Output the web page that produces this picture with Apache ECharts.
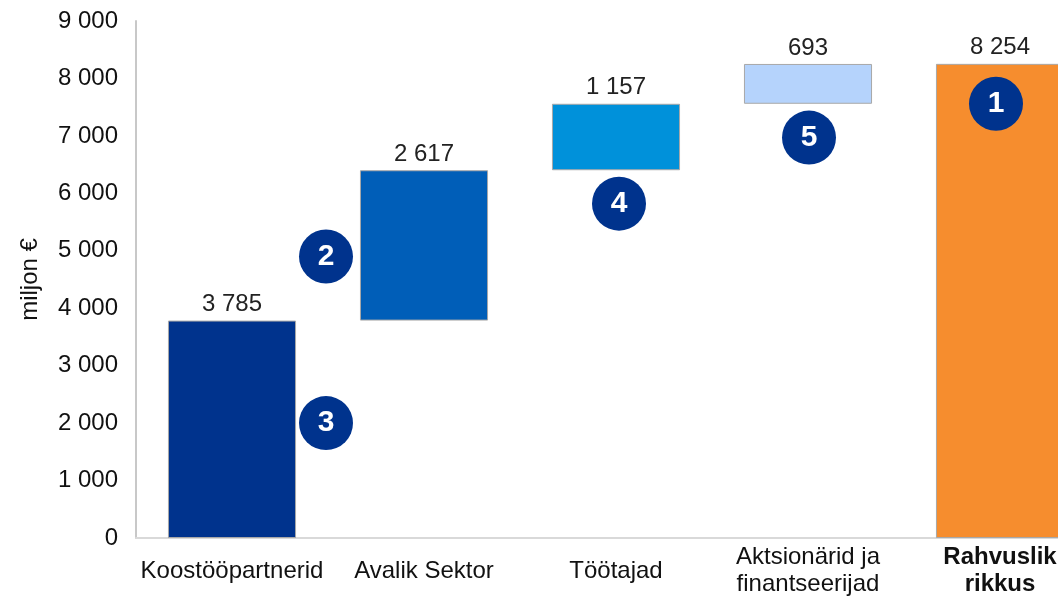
<!DOCTYPE html>
<html>
<head>
<meta charset="utf-8">
<script src="https://cdn.jsdelivr.net/npm/echarts@6/dist/echarts.min.js"></script>
<style>
html,body{margin:0;padding:0;background:#fff;}
#c{width:1058px;height:600px;}
</style>
</head>
<body>
<div id="c"></div>
<script>
var categories = ['Koostööpartnerid', 'Avalik Sektor', 'Töötajad', 'Aktsionärid ja\nfinantseerijad', 'Rahvuslik\nrikkus'];
var values = [3785, 2617, 1157, 693, 8254];
var barColors = ['#00338D', '#005EB8', '#0091DA', '#B5D3FC', '#F68D2E'];
var yTicks = [0, 1000, 2000, 3000, 4000, 5000, 6000, 7000, 8000, 9000];

// numbered badges: category, y value, x shift
var badgeNums = ['3', '2', '4', '5', '1'];
var badgeCats = [0, 1, 2, 3, 4];
var badgeVals = [2000, 4900, 5820, 6970, 7560];
var badgeShift = [94, -98, 3, 1, -4];

// invisible base for the waterfall (last bar is the total)
var base = [];
var run = 0;
for (var i = 0; i < values.length; i++) {
	if (i == values.length - 1) { base.push(0); }
	else { base.push(run); run += values[i]; }
}

function fmt(v) {
	return String(v).replace(/\B(?=(\d{3})+(?!\d))/g, ' ');
}

var font = 'Liberation Sans, Arial, sans-serif';
var chart = echarts.init(document.getElementById('c'));

var badgeData = [];
for (var j = 0; j < badgeNums.length; j++) {
	badgeData.push({
		name: badgeNums[j],
		coord: [badgeCats[j], badgeVals[j]],
		symbolOffset: [badgeShift[j], 0]
	});
}

option = {
	backgroundColor: '#fff',
	animation: false,
	grid: {
		left: 136,
		right: -38,
		top: 21,
		bottom: 62,
		outerBoundsMode: 'none',
		containLabel: false
	},
	xAxis: {
		type: 'category',
		data: categories,
		axisTick: {show: false},
		axisLine: {show: true, lineStyle: {color: '#d9d9d9', width: 2}},
		axisLabel: {
			interval: 0,
			margin: 33,
			verticalAlign: 'middle',
			color: '#111',
			fontSize: 24,
			fontFamily: font,
			lineHeight: 27,
			formatter: function (v, idx) {
				if (idx == categories.length - 1) {
					return v.split('\n').map(function (s) { return '{b|' + s + '}'; }).join('\n');
				}
				return v;
			},
			rich: {
				b: {fontWeight: 'bold', fontSize: 24, fontFamily: font, color: '#111', lineHeight: 27}
			}
		},
		splitLine: {show: false}
	},
	yAxis: {
		type: 'value',
		min: yTicks[0],
		max: yTicks[yTicks.length - 1],
		interval: 1000,
		name: 'miljon €',
		nameLocation: 'middle',
		nameGap: 94,
		nameTextStyle: {color: '#111', fontSize: 24, fontFamily: font},
		axisLine: {show: true, lineStyle: {color: '#c8c8c8', width: 2}},
		axisTick: {show: false},
		splitLine: {show: false},
		axisLabel: {
			margin: 18,
			color: '#111',
			fontSize: 24,
			fontFamily: font,
			formatter: fmt
		}
	},
	series: [{
		type: 'bar',
		stack: 'w',
		data: base,
		itemStyle: {color: 'transparent'},
		silent: true
	}, {
		type: 'bar',
		stack: 'w',
		barWidth: '66.7%',
		data: values.map(function (v, k) {
			return {value: v, itemStyle: {color: barColors[k]}};
		}),
		itemStyle: {borderColor: '#a8a8a8', borderWidth: 1},
		label: {
			show: true,
			position: 'top',
			distance: 4,
			color: '#222',
			fontSize: 24,
			fontFamily: font,
			formatter: function (p) { return fmt(p.value); }
		},
		markPoint: {
			symbol: 'circle',
			symbolSize: 54,
			itemStyle: {color: '#00338D'},
			label: {
				show: true,
				color: '#fff',
				fontSize: 30,
				fontWeight: 'bold',
				fontFamily: font,
				formatter: '{b}'
			},
			data: badgeData
		}
	}]
};
chart.setOption(option);
</script>
</body>
</html>
